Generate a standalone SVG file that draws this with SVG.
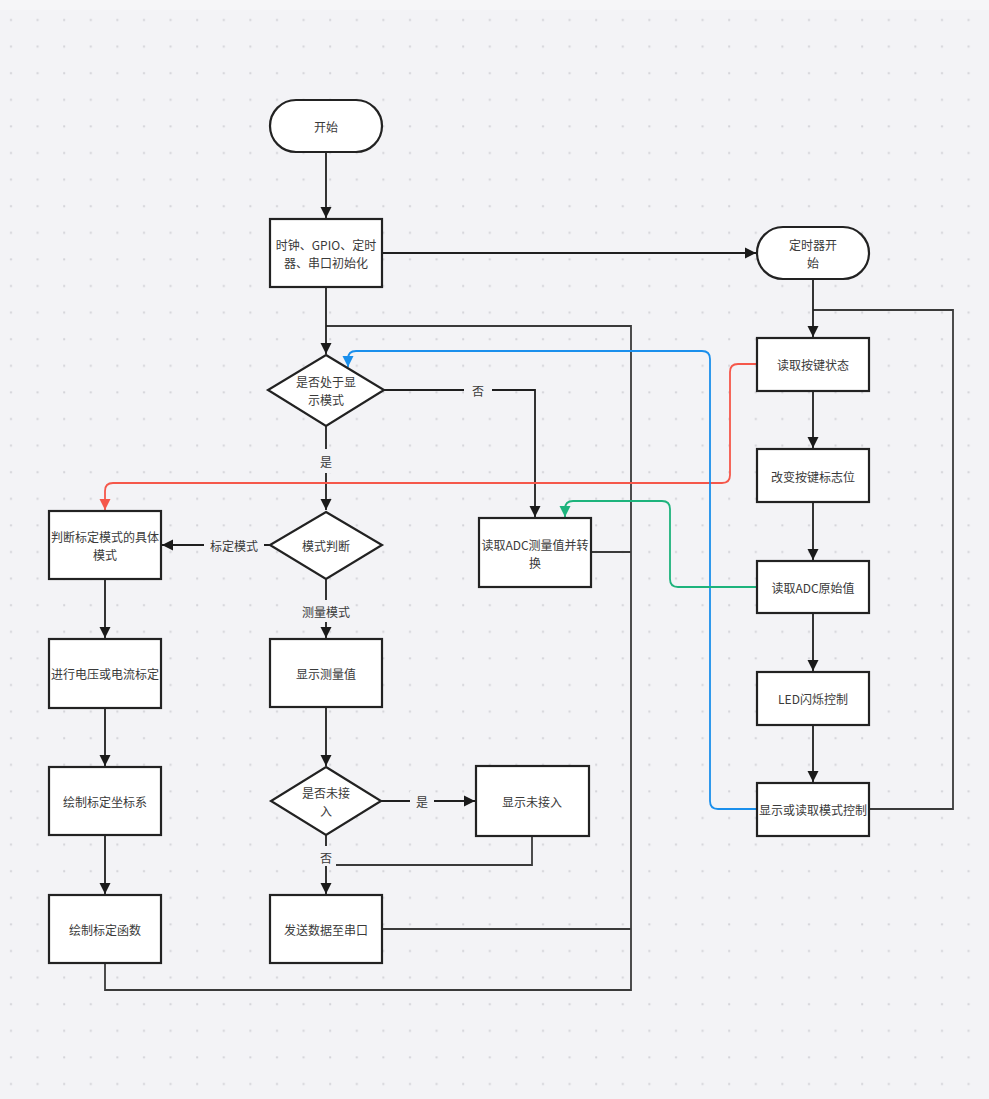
<svg xmlns="http://www.w3.org/2000/svg" width="989" height="1099" viewBox="0 0 989 1099">
<defs>
<pattern id="dots" x="0" y="0" width="26.6" height="26.6" patternUnits="userSpaceOnUse">
<rect x="10" y="19" width="2" height="2" fill="#d3d3d8"/>
</pattern>
<marker id="ah" markerUnits="userSpaceOnUse" markerWidth="12" markerHeight="12" refX="11" refY="6" orient="auto" viewBox="0 0 12 12">
<path d="M0,0.5 L11,6 L0,11.5 z" fill="#1a1a1a"/>
</marker>
<marker id="ahr" markerUnits="userSpaceOnUse" markerWidth="12" markerHeight="12" refX="11" refY="6" orient="auto" viewBox="0 0 12 12">
<path d="M0,0.5 L11,6 L0,11.5 z" fill="#f5574a"/>
</marker>
<marker id="ahb" markerUnits="userSpaceOnUse" markerWidth="12" markerHeight="12" refX="11" refY="6" orient="auto" viewBox="0 0 12 12">
<path d="M0,0.5 L11,6 L0,11.5 z" fill="#1a8fec"/>
</marker>
<marker id="ahg" markerUnits="userSpaceOnUse" markerWidth="12" markerHeight="12" refX="11" refY="6" orient="auto" viewBox="0 0 12 12">
<path d="M0,0.5 L11,6 L0,11.5 z" fill="#1db37c"/>
</marker>
</defs>
<style>
.n{fill:#ffffff;stroke:#222222;stroke-width:2.2}
.t{font-family:"Noto Sans CJK SC","Noto Sans",sans-serif;font-size:12px;fill:#3a3a3a;text-anchor:middle;dominant-baseline:central}
.c{fill:none;stroke:#1f1f1f;stroke-width:1.8}
.a{marker-end:url(#ah)}
.l{fill:none;stroke:#3a3a3a;stroke-width:1.8}
.bg{fill:#f3f3f6}
</style>
<rect x="0" y="0" width="989" height="1099" fill="#f3f3f6"/>
<rect x="0" y="0" width="989" height="10" fill="#f6f6f8"/>
<rect x="0" y="0" width="989" height="1099" fill="url(#dots)"/>

<g id="connectors">
<path class="l" d="M105,963 V990 H631 V326 H326"/>
<path class="l" d="M591,552 H631"/>
<path class="l" d="M382,929 H631"/>
<path class="l" d="M869,809 H953 V310 H813"/>
<path class="l" d="M532,836 V865 H326"/>
<path class="c a" d="M326,152 V218"/>
<path class="c a" d="M382,253 H756"/>
<path class="c a" d="M326,287 V354"/>
<path class="c a" d="M384,390 H535 V517"/>
<path class="c a" d="M326,426 V510"/>
<path class="c a" d="M270,545 H162"/>
<path class="c a" d="M326,579 V638"/>
<path class="c a" d="M326,707 V766"/>
<path class="c a" d="M381,801 H475"/>
<path class="c a" d="M326,835 V894"/>
<path class="c a" d="M105,579 V638"/>
<path class="c a" d="M105,708 V766"/>
<path class="c a" d="M105,835 V894"/>
<path class="c a" d="M813,279 V337"/>
<path class="c a" d="M813,391 V448"/>
<path class="c a" d="M813,502 V560"/>
<path class="c a" d="M813,613 V671"/>
<path class="c a" d="M813,725 V782"/>
<path fill="none" stroke="#f5574a" stroke-width="1.8" marker-end="url(#ahr)" d="M757,364 H738 Q730,364 730,372 V475 Q730,483 722,483 H113 Q105,483 105,491 V510"/>
<path fill="none" stroke="#1a8fec" stroke-width="1.8" marker-end="url(#ahb)" d="M757,809 H718 Q710,809 710,801 V359 Q710,351 702,351 H356 Q348,351 348,359 V367"/>
<path fill="none" stroke="#1db37c" stroke-width="1.8" marker-end="url(#ahg)" d="M757,587 H678 Q670,587 670,579 V509 Q670,501 662,501 H573 Q565,501 565,509 V517"/>
<rect class="bg" x="464" y="380" width="28" height="20"/>
<text class="t" x="478" y="390">否</text>
<rect class="bg" x="316" y="449" width="20" height="24"/>
<text class="t" x="326" y="461">是</text>
<rect class="bg" x="204" y="535" width="60" height="20"/>
<text class="t" x="234" y="545">标定模式</text>
<rect class="bg" x="298" y="600" width="56" height="22"/>
<text class="t" x="326" y="611">测量模式</text>
<rect class="bg" x="410" y="791" width="24" height="20"/>
<text class="t" x="422" y="801">是</text>
<rect class="bg" x="316" y="846" width="20" height="20"/>
<text class="t" x="326" y="857">否</text>
</g>

<g id="start">
<rect class="n" x="270" y="100" width="112" height="52" rx="26"/>
<text class="t" x="326" y="126">开始</text>
</g>
<g id="init">
<rect class="n" x="270" y="219" width="112" height="68"/>
<text class="t" x="326" y="244">时钟、GPIO、定时</text>
<text class="t" x="326" y="262">器、串口初始化</text>
</g>
<g id="timerStart">
<rect class="n" x="757" y="227" width="112" height="52" rx="26"/>
<text class="t" x="813" y="244">定时器开</text>
<text class="t" x="813" y="262">始</text>
</g>
<g id="isDisplay">
<polygon class="n" points="326,355 384,390 326,426 268,390"/>
<text class="t" x="326" y="381">是否处于显</text>
<text class="t" x="326" y="399">示模式</text>
</g>
<g id="modeJudge">
<polygon class="n" points="326,512 382,545 326,579 270,545"/>
<text class="t" x="326" y="545">模式判断</text>
</g>
<g id="readAdcConv">
<rect class="n" x="479" y="518" width="112" height="69"/>
<text class="t" x="535" y="544">读取ADC测量值并转</text>
<text class="t" x="535" y="562">换</text>
</g>
<g id="calibJudge">
<rect class="n" x="49" y="511" width="112" height="68"/>
<text class="t" x="105" y="536">判断标定模式的具体</text>
<text class="t" x="105" y="554">模式</text>
</g>
<g id="calibrate">
<rect class="n" x="49" y="639" width="112" height="69"/>
<text class="t" x="105" y="673">进行电压或电流标定</text>
</g>
<g id="drawAxis">
<rect class="n" x="49" y="767" width="112" height="68"/>
<text class="t" x="105" y="801">绘制标定坐标系</text>
</g>
<g id="drawFunc">
<rect class="n" x="49" y="895" width="112" height="68"/>
<text class="t" x="105" y="929">绘制标定函数</text>
</g>
<g id="showMeasure">
<rect class="n" x="270" y="639" width="112" height="68"/>
<text class="t" x="326" y="673">显示测量值</text>
</g>
<g id="notConnected">
<polygon class="n" points="326,767 381,801 326,835 271,801"/>
<text class="t" x="326" y="792">是否未接</text>
<text class="t" x="326" y="810">入</text>
</g>
<g id="showNotConnected">
<rect class="n" x="476" y="766" width="113" height="70"/>
<text class="t" x="532" y="801">显示未接入</text>
</g>
<g id="sendSerial">
<rect class="n" x="270" y="895" width="112" height="68"/>
<text class="t" x="326" y="929">发送数据至串口</text>
</g>
<g id="readKey">
<rect class="n" x="757" y="338" width="112" height="53"/>
<text class="t" x="813" y="364">读取按键状态</text>
</g>
<g id="changeFlag">
<rect class="n" x="757" y="449" width="112" height="53"/>
<text class="t" x="813" y="476">改变按键标志位</text>
</g>
<g id="readAdcRaw">
<rect class="n" x="757" y="561" width="112" height="52"/>
<text class="t" x="813" y="587">读取ADC原始值</text>
</g>
<g id="led">
<rect class="n" x="757" y="672" width="112" height="53"/>
<text class="t" x="813" y="698">LED闪烁控制</text>
</g>
<g id="modeCtrl">
<rect class="n" x="757" y="783" width="112" height="53"/>
<text class="t" x="813" y="809">显示或读取模式控制</text>
</g>
</svg>
